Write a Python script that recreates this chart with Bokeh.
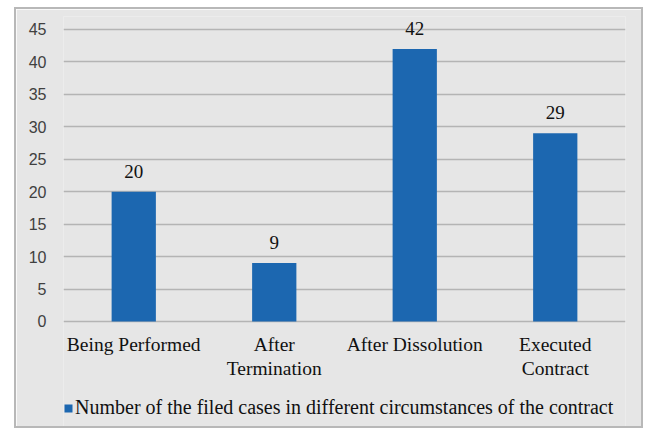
from bokeh.plotting import figure
from bokeh.models import Range1d, Legend, LegendItem, ColumnDataSource, FixedTicker
from bokeh.core.properties import value
from bokeh.embed import file_html
from bokeh.resources import INLINE

categories = ["Being Performed", "After\nTermination", "After Dissolution", "Executed\nContract"]
counts = [20, 9, 42, 29]
series_name = "Number of the filed cases in different circumstances of the contract"
y_ticks = [0, 5, 10, 15, 20, 25, 30, 35, 40, 45]

BG = "#e6e6e6"
BAR = "#1c67b0"
GRID = "#b4b4b4"

src = ColumnDataSource(dict(x=categories, y=counts, lbl=[str(v) for v in counts]))

# frame spans the whole inner area; the value axis 0..45 sits in its upper part
p = figure(x_range=categories, y_range=Range1d(-16.8, 47),
           width=629, height=421, output_backend="svg", toolbar_location=None,
           min_border_left=47, min_border_right=20, min_border_top=7, min_border_bottom=0)
p.styles = {"border": "2px solid #b8b8b8"}
p.margin = (7, 0, 0, 14)
p.background_fill_color = BG
p.border_fill_color = BG
p.outline_line_color = None

r = p.vbar(x="x", top="y", bottom=0, width=0.315, source=src, fill_color=BAR, line_color=None)
p.text(x="x", y="y", text="lbl", source=src, text_align="center", text_baseline="bottom",
       y_offset=-14, text_font=value("Liberation Serif"), text_font_size="19px", text_color="#111111")

p.xgrid.grid_line_color = None
p.yaxis.ticker = FixedTicker(ticks=y_ticks)
p.ygrid.ticker = FixedTicker(ticks=y_ticks)
p.ygrid.grid_line_color = GRID
p.ygrid.grid_line_width = 1.5

p.yaxis.axis_line_color = None
p.yaxis.major_tick_line_color = None
p.yaxis.minor_tick_line_color = None
p.yaxis.major_label_standoff = 11
p.yaxis.major_label_text_font = "Liberation Sans"
p.yaxis.major_label_text_font_size = "16px"
p.yaxis.major_label_text_color = "#404040"

p.xaxis.fixed_location = 0
p.xaxis.axis_line_color = None
p.xaxis.major_tick_line_color = None
p.xaxis.minor_tick_line_color = None
p.xaxis.major_label_standoff = 7
p.xaxis.major_label_text_font = "Liberation Serif"
p.xaxis.major_label_text_font_size = "19.5px"
p.xaxis.major_label_text_color = "#111111"
p.xaxis.major_label_text_line_height = 1.1

legend = Legend(items=[LegendItem(label=series_name, renderers=[r])],
                orientation="horizontal", location=(0, 11),
                background_fill_alpha=0, border_line_color=None,
                label_text_font="Liberation Serif", label_text_font_size="20px",
                label_text_color="#111111", glyph_width=10, glyph_height=10,
                label_standoff=2, padding=0, margin=0, spacing=0)
p.add_layout(legend)

open("out.html", "w").write(file_html(p, INLINE))
